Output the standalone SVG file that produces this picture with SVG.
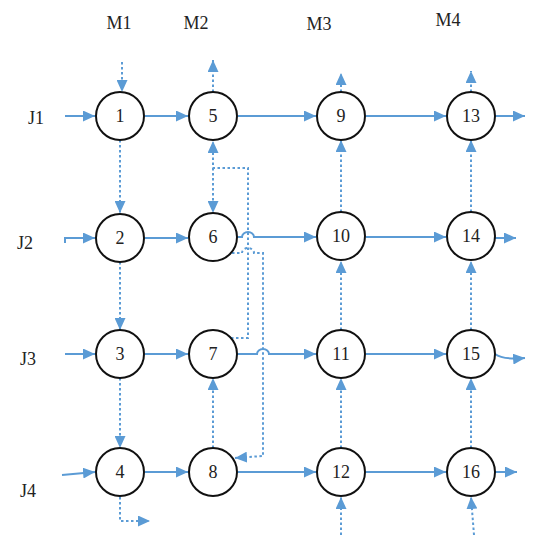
<svg xmlns="http://www.w3.org/2000/svg" width="544" height="550" viewBox="0 0 544 550">
<defs>
<marker id="ah" markerUnits="userSpaceOnUse" markerWidth="13" markerHeight="11" refX="12" refY="5.5" orient="auto">
<path d="M0,0 L12,5.5 L0,11 z" fill="#5B9BD5"/>
</marker>
<style>
.s{fill:none;stroke:#5B9BD5;stroke-width:2;marker-end:url(#ah)}
.d{fill:none;stroke:#5B9BD5;stroke-width:2;stroke-dasharray:2.5,2.5;marker-end:url(#ah)}
.dn{fill:none;stroke:#5B9BD5;stroke-width:2;stroke-dasharray:2.5,2.5}
.n circle{fill:#fff;stroke:#111;stroke-width:2}
.n text,.l{font-family:"Liberation Serif","Times New Roman",serif;font-size:18px;fill:#222;text-anchor:middle}
</style>
</defs>
<rect width="544" height="550" fill="#fff"/>
<g id="labels">
<text class="l" x="119" y="29">M1</text>
<text class="l" x="196" y="29">M2</text>
<text class="l" x="319" y="30">M3</text>
<text class="l" x="448" y="26">M4</text>
<text class="l" x="36" y="124">J1</text>
<text class="l" x="25" y="249">J2</text>
<text class="l" x="28" y="365">J3</text>
<text class="l" x="28" y="497">J4</text>
</g>
<g id="connectors">
<!-- inputs -->
<path class="s" d="M65,116 L95,116"/>
<path class="s" d="M65,243 L65,238 L95,238"/>
<path class="s" d="M65,354 L95,354"/>
<path class="s" d="M62,475 L95,472"/>
<!-- row 1 -->
<path class="s" d="M145,116 L188,116"/>
<path class="s" d="M238,116 L316,116"/>
<path class="s" d="M366,116 L446,116"/>
<path class="s" d="M495,116 L525,116"/>
<!-- row 2 -->
<path class="s" d="M145,238 L188,238"/>
<path class="s" d="M237,237 L242,237 A6,5 0 0 1 254,237 L316,237"/>
<path class="s" d="M366,237 L446,237"/>
<path class="s" d="M495,238 L516,238"/>
<!-- row 3 -->
<path class="s" d="M145,354 L188,354"/>
<path class="s" d="M237,354 L257,354 A6,5 0 0 1 269,354 L316,354"/>
<path class="s" d="M366,354 L446,354"/>
<path class="s" d="M495,354 Q503,360 525,358"/>
<!-- row 4 -->
<path class="s" d="M145,472 L188,472"/>
<path class="s" d="M238,472 L316,472"/>
<path class="s" d="M366,472 L446,472"/>
<path class="s" d="M495,472 L517,472"/>
<!-- vertical dotted -->
<path class="d" d="M122,62 L122,92"/>
<path class="d" d="M213,92 L213,60"/>
<path class="d" d="M341,92 L341,73"/>
<path class="d" d="M471,92 L471,71"/>
<path class="d" d="M120,140 L120,213"/>
<path class="d" d="M120,262 L120,330"/>
<path class="d" d="M120,378 L120,448"/>
<path class="d" d="M120,497 L120,521 L150,521"/>
<path class="d" d="M341,212 L341,140"/>
<path class="d" d="M471,212 L471,140"/>
<path class="d" d="M341,330 L341,261"/>
<path class="d" d="M471,330 L471,261"/>
<path class="d" d="M341,448 L341,378"/>
<path class="d" d="M471,448 L471,378"/>
<path class="d" d="M341,535 L341,497"/>
<path class="d" d="M474,535 L471,497"/>
<path class="d" d="M213,448 L213,378"/>
<!-- 7 to 5 / 6 -->
<path class="d" d="M231,338 L248,338 L248,168 L213,168 L213,141"/>
<path class="d" d="M213,168 L213,213"/>
<!-- 6 to 8 -->
<path class="d" d="M232,253 L242,253 A6,5 0 0 1 254,253 L263,253 L263,456 L235,458"/>
</g>
<g id="n1" class="n"><circle cx="120" cy="116" r="24"/><text x="120" y="122">1</text></g>
<g id="n2" class="n"><circle cx="120" cy="238" r="24"/><text x="120" y="244">2</text></g>
<g id="n3" class="n"><circle cx="120" cy="354" r="24"/><text x="120" y="360">3</text></g>
<g id="n4" class="n"><circle cx="120" cy="472" r="24"/><text x="120" y="478">4</text></g>
<g id="n5" class="n"><circle cx="213" cy="116" r="24"/><text x="213" y="122">5</text></g>
<g id="n6" class="n"><circle cx="213" cy="237" r="24"/><text x="213" y="243">6</text></g>
<g id="n7" class="n"><circle cx="213" cy="354" r="24"/><text x="213" y="360">7</text></g>
<g id="n8" class="n"><circle cx="213" cy="472" r="24"/><text x="213" y="478">8</text></g>
<g id="n9" class="n"><circle cx="341" cy="116" r="24"/><text x="341" y="122">9</text></g>
<g id="n10" class="n"><circle cx="341" cy="236" r="24"/><text x="341" y="242">10</text></g>
<g id="n11" class="n"><circle cx="341" cy="354" r="24"/><text x="341" y="360">11</text></g>
<g id="n12" class="n"><circle cx="341" cy="472" r="24"/><text x="341" y="478">12</text></g>
<g id="n13" class="n"><circle cx="471" cy="116" r="24"/><text x="471" y="122">13</text></g>
<g id="n14" class="n"><circle cx="471" cy="236" r="24"/><text x="471" y="242">14</text></g>
<g id="n15" class="n"><circle cx="471" cy="354" r="24"/><text x="471" y="360">15</text></g>
<g id="n16" class="n"><circle cx="471" cy="472" r="24"/><text x="471" y="478">16</text></g>
</svg>
